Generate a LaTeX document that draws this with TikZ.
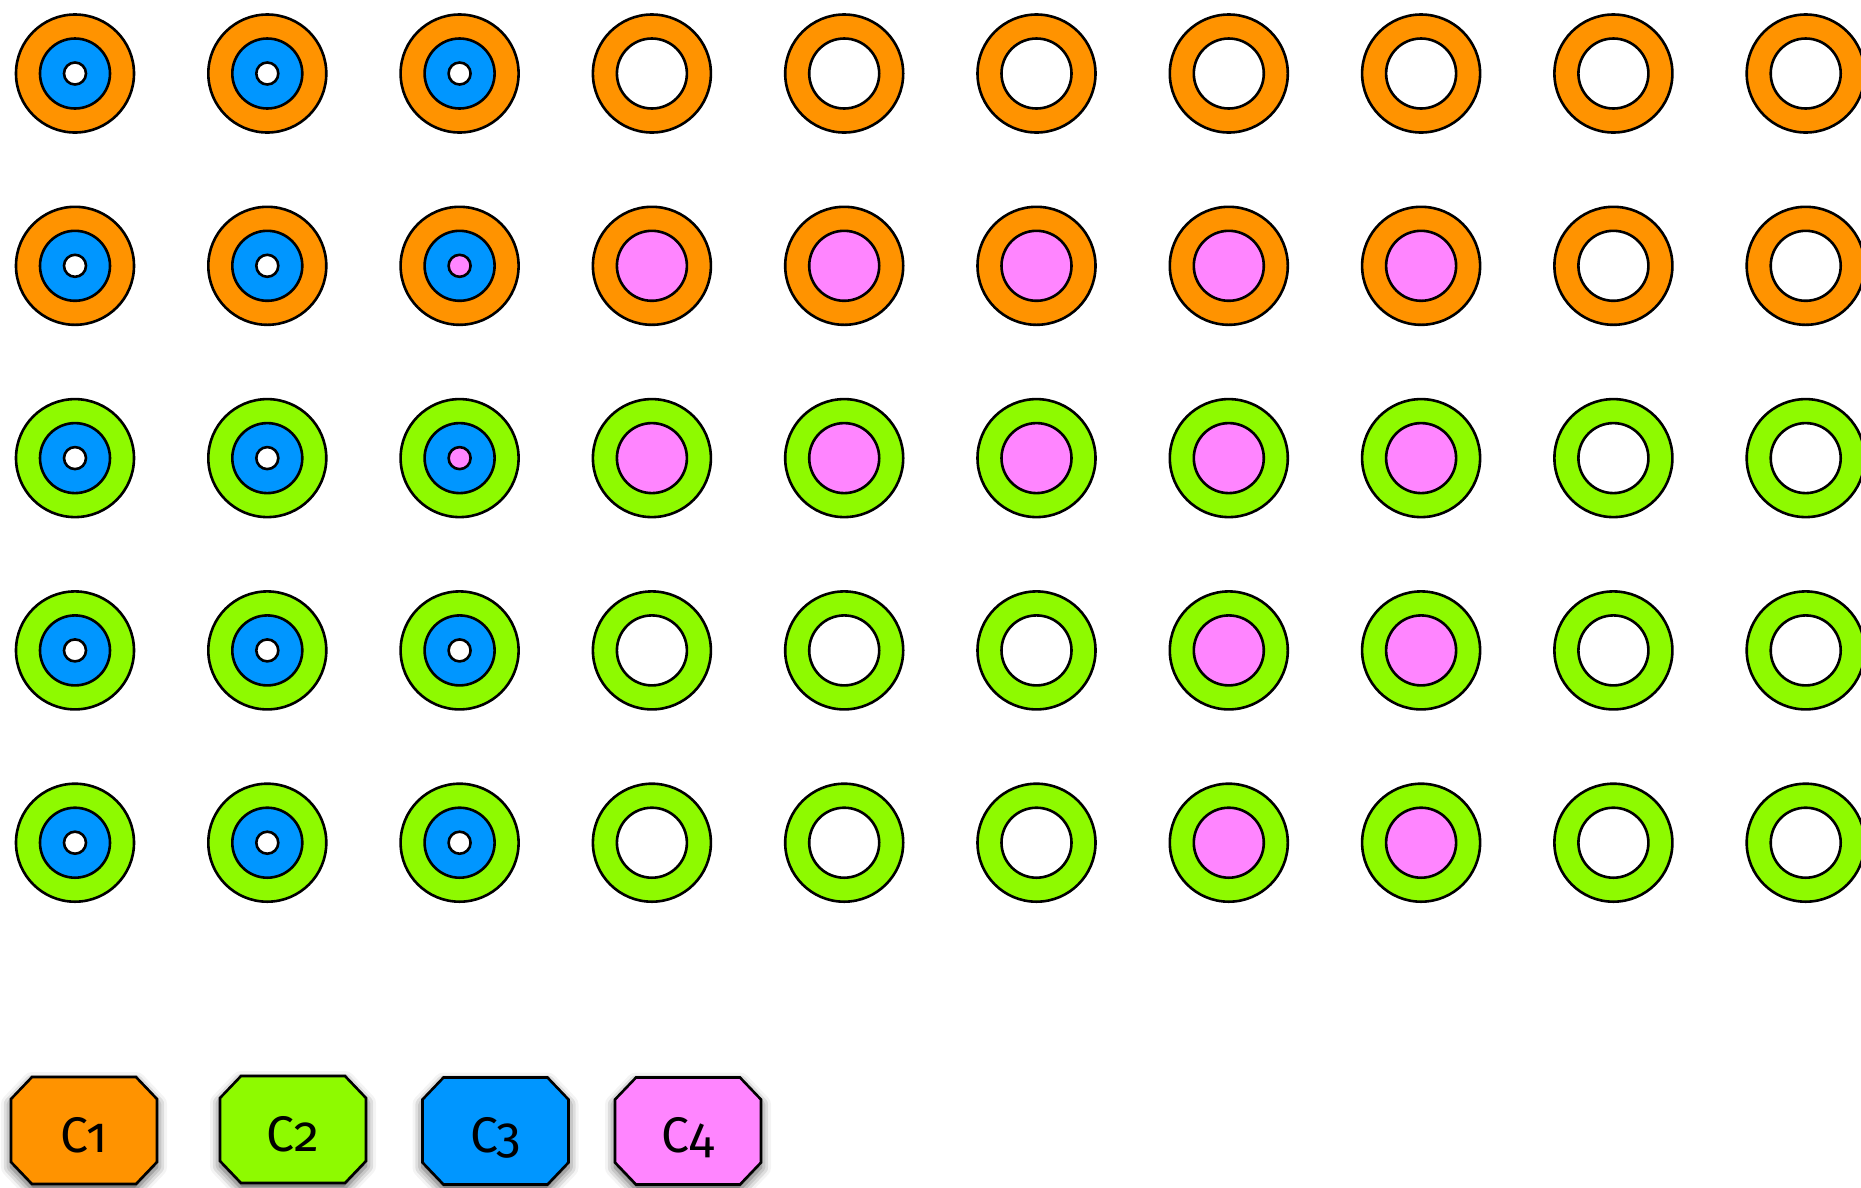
\documentclass[tikz,border=0pt]{standalone}
\usepackage{fontspec}
\newfontfamily\legfont[Numbers=OldStyle]{Fira Sans}
\usetikzlibrary{shadows.blur}
\definecolor{corange}{HTML}{FF9300}
\definecolor{cgreen}{HTML}{8EFA00}
\definecolor{cblue}{HTML}{0096FF}
\definecolor{cpink}{HTML}{FF85FF}
\tikzset{
  ring/.style={circle, draw=black, line width=2.6pt, inner sep=0pt, minimum size=118pt},
  midc/.style={circle, draw=black, line width=2.6pt, inner sep=0pt, minimum size=70pt},
  corec/.style={circle, draw=black, line width=2.6pt, inner sep=0pt, minimum size=22pt},
  legbox/.style={draw=black, line width=2.6pt, line join=miter,
    blur shadow={shadow xshift=0pt, shadow yshift=-5pt, shadow blur radius=10pt, shadow opacity=70}},
  legtext/.style={font=\legfont\fontsize{50}{50}\selectfont, inner sep=0pt, anchor=base}
}
\newcommand\legendbox[5]{%
  \begin{scope}[shift={(#2,#3)}]
    \path[legbox, fill=#4] (-52,-53.5) -- (52,-53.5) -- (73,-31.5) -- (73,31.5)
      -- (52,53.5) -- (-52,53.5) -- (-73,31.5) -- (-73,-31.5) -- cycle;
    \node[legtext] (#1) at (0,21.5) {#5};
  \end{scope}}
\begin{document}
\begin{tikzpicture}[x=1pt,y=-1pt]
\useasboundingbox (0,0) rectangle (1861,1187);
\foreach \r/\oc/\spec in {
  0/corange/{cblue/white/1,cblue/white/1,cblue/white/1,white/white/0,white/white/0,white/white/0,white/white/0,white/white/0,white/white/0,white/white/0},
  1/corange/{cblue/white/1,cblue/white/1,cblue/cpink/1,cpink/white/0,cpink/white/0,cpink/white/0,cpink/white/0,cpink/white/0,white/white/0,white/white/0},
  2/cgreen/{cblue/white/1,cblue/white/1,cblue/cpink/1,cpink/white/0,cpink/white/0,cpink/white/0,cpink/white/0,cpink/white/0,white/white/0,white/white/0},
  3/cgreen/{cblue/white/1,cblue/white/1,cblue/white/1,white/white/0,white/white/0,white/white/0,cpink/white/0,cpink/white/0,white/white/0,white/white/0},
  4/cgreen/{cblue/white/1,cblue/white/1,cblue/white/1,white/white/0,white/white/0,white/white/0,cpink/white/0,cpink/white/0,white/white/0,white/white/0}}{
  \foreach \m/\k/\o [count=\c from 0] in \spec {
    \node[ring, fill=\oc] (o\r-\c) at ({75+192.3*\c},{73.5+192.3*\r}) {};
    \node[midc, fill=\m] (m\r-\c) at (o\r-\c) {};
    \ifnum\o=1 \node[corec, fill=\k] (k\r-\c) at (o\r-\c) {};\fi
  }
}
\legendbox{c1}{84}{1130.5}{corange}{C1}
\legendbox{c2}{293}{1129.5}{cgreen}{C2}
\legendbox{c3}{495.5}{1131}{cblue}{C3}
\legendbox{c4}{688}{1131}{cpink}{C4}
\end{tikzpicture}
\end{document}
